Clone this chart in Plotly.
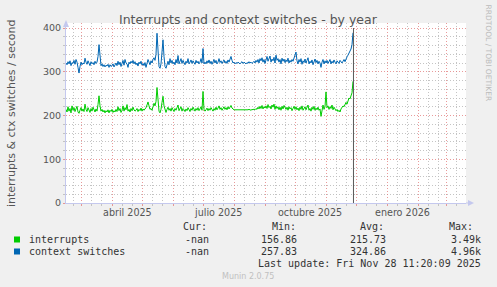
import pandas as pd
import plotly.graph_objects as go

# ---------------- data ----------------
start_date = "2025-02-14"
range_start = "2025-02-14"
range_end = "2026-03-21"
last_update = "2025-11-28 11:20:09"

context_switches = [
    320, 316, 323, 318, 325, 314, 321, 319, 326, 317,
    328, 322, 310, 297, 312, 322, 316, 320, 318, 331,
    322, 317, 325, 319, 314, 323, 318, 321, 316, 324,
    319, 322, 335, 362, 328, 314, 318, 312, 316, 311,
    315, 313, 317, 310, 316, 312, 314, 318, 311, 316,
    320, 314, 324, 316, 322, 312, 318, 326, 315, 328,
    320, 318, 310, 322, 318, 324, 320, 326, 318, 323,
    316, 320, 313, 322, 318, 324, 315, 319, 314, 321,
    310, 318, 328, 322, 316, 325, 320, 328, 332, 326,
    340, 388, 342, 312, 308, 318, 345, 373, 335, 312,
    308, 318, 324, 316, 330, 320, 326, 318, 322, 316,
    328, 320, 337, 318, 324, 330, 319, 326, 321, 316,
    324, 320, 330, 318, 322, 327, 319, 325, 321, 317,
    326, 320, 324, 318, 322, 330, 320, 353, 318, 322,
    318, 325, 320, 327, 319, 324, 317, 322, 328, 320,
    326, 318, 322, 330, 321, 325, 319, 323, 327, 320,
    324, 319, 327, 322, 330, 335, 326, 320, 322, 318,
    321, 319, 322, 320, 318, 321, 323, 319, 322, 320,
    318, 321, 319, 323, 320, 322, 319, 321, 324, 320,
    326, 322, 328, 320, 330, 325, 332, 322, 328, 319,
    327, 335, 324, 330, 336, 322, 329, 325, 333, 320,
    338, 326, 330, 322, 328, 318, 331, 324, 329, 321,
    327, 323, 331, 320, 326, 322, 328, 324, 330, 336,
    345, 325, 318, 328, 322, 330, 317, 325, 321, 329,
    320, 326, 332, 318, 324, 320, 327, 316, 323, 329,
    321, 326, 318, 324, 320, 310, 322, 328, 318, 325,
    320, 326, 319, 323, 328, 318, 324, 320, 327, 322,
    318, 325, 321, 319, 326, 322, 320, 324, 328, 323,
    330, 334, 338, 342, 348, 352, 362, 389,
]

interrupts = [
    214, 208, 220, 210, 216, 206, 222, 212, 218, 209,
    215, 221, 208, 205, 212, 218, 210, 215, 209, 226,
    214, 209, 218, 212, 207, 216, 210, 219, 212, 208,
    215, 210, 225, 245, 222, 210, 214, 208, 212, 206,
    211, 208, 213, 206, 212, 209, 214, 207, 211, 208,
    214, 209, 220, 211, 216, 207, 212, 222, 210, 218,
    213, 225, 210, 214, 208, 216, 211, 219, 213, 210,
    212, 216, 209, 214, 211, 217, 210, 215, 212, 214,
    218, 224, 231, 222, 214, 216, 212, 220, 228, 222,
    232, 264, 226, 210, 206, 214, 230, 244, 222, 210,
    207, 214, 219, 212, 216, 210, 218, 213, 209, 216,
    212, 218, 224, 211, 215, 220, 210, 216, 213, 209,
    215, 211, 218, 213, 209, 216, 212, 219, 214, 210,
    216, 212, 218, 211, 215, 220, 212, 255, 214, 210,
    213, 217, 211, 216, 212, 218, 214, 210, 216, 212,
    219, 213, 217, 222, 214, 218, 212, 216, 220, 214,
    218, 213, 220, 215, 219, 223, 217, 214, 213, 213,
    213, 212, 213, 213, 212, 213, 213, 212, 213, 213,
    212, 213, 213, 214, 213, 212, 214, 213, 215, 213,
    216, 214, 219, 215, 221, 216, 223, 215, 220, 217,
    222, 216, 225, 218, 221, 215, 224, 219, 226, 214,
    222, 216, 220, 213, 219, 212, 221, 215, 223, 217,
    214, 219, 212, 220, 215, 218, 211, 216, 221, 214,
    220, 213, 217, 211, 219, 214, 222, 212, 216, 220,
    213, 218, 224, 212, 216, 210, 219, 214, 221, 212,
    217, 213, 219, 212, 215, 198, 218, 224, 214, 220,
    254, 218, 222, 214, 220, 216, 224, 213, 219, 215,
    211, 214, 209, 212, 208, 215, 218, 222, 220, 226,
    230, 226, 236, 240, 238, 248, 252, 278,
]

series_names = ["interrupts", "context switches"]
series_colors = ["#00CC00", "#0066B3"]
cur_vals = ["-nan", "-nan"]
min_vals = ["156.86", "257.83"]
avg_vals = ["215.73", "324.86"]
max_vals = ["3.49k", "4.96k"]

month_labels = ["abril 2025", "julio 2025", "octubre 2025", "enero 2026"]
month_label_dates = ["2025-04-16", "2025-07-16", "2025-10-16", "2026-01-16"]

title_text = "Interrupts and context switches - by year"
y_title = "interrupts & ctx switches / second"

# ---------------- geometry helpers ----------------
W, H = 497, 287
L, R, T, B = 66, 466, 23, 203
Y_TOP_VAL = 400 * (B - T) / (B - 28)


def px2x(px):
    return (px - L) / (R - L)


def py2y(py):
    return (B - py) / (B - T)


dates = pd.date_range(start_date, periods=len(interrupts), freq="D")

# minor grid: 11th and 21st of each month
minor_vals = []
for m in pd.date_range("2025-02-01", "2026-03-01", freq="MS"):
    for d in (11, 21):
        dt = m + pd.Timedelta(days=d - 1)
        if pd.Timestamp(range_start) < dt < pd.Timestamp(range_end):
            minor_vals.append(dt.strftime("%Y-%m-%d"))

fig = go.Figure()
fig.add_trace(go.Scatter(x=dates, y=interrupts, mode="lines", name=series_names[0],
                         line=dict(color=series_colors[0], width=1)))
fig.add_trace(go.Scatter(x=dates, y=context_switches, mode="lines", name=series_names[1],
                         line=dict(color=series_colors[1], width=1)))

RED_GRID = "rgba(225,120,120,0.75)"
GRAY_GRID = "rgba(190,190,190,0.9)"
AXIS_COL = "#C4C8EE"

fig.update_layout(
    width=W, height=H,
    margin=dict(l=L, r=W - R, t=T, b=H - B, pad=0),
    paper_bgcolor="#F0F0F0",
    plot_bgcolor="#FFFFFF",
    showlegend=False,
    font=dict(family="DejaVu Sans", color="#555555"),
    xaxis=dict(
        type="date", range=[range_start, range_end],
        tick0="2025-03-01", dtick="M1",
        showticklabels=False,
        showgrid=True, gridcolor=RED_GRID, griddash="1px,2px", gridwidth=1,
        ticks="outside", ticklen=2, tickcolor=RED_GRID,
        showline=True, linecolor=AXIS_COL, linewidth=1,
        zeroline=False,
        minor=dict(tickmode="array", tickvals=minor_vals, showgrid=True,
                   gridcolor=GRAY_GRID, griddash="1px,2px", gridwidth=1,
                   ticks="outside", ticklen=2, tickcolor=GRAY_GRID),
    ),
    yaxis=dict(
        range=[0, Y_TOP_VAL], tick0=0, dtick=100,
        showgrid=True, gridcolor=RED_GRID, griddash="1px,2px", gridwidth=1,
        ticks="outside", ticklen=2, tickcolor=RED_GRID,
        tickfont=dict(family="DejaVu Sans", size=9.5, color="#555555"),
        showline=True, linecolor=AXIS_COL, linewidth=1,
        zeroline=False,
        minor=dict(dtick=20, showgrid=True, gridcolor=GRAY_GRID, griddash="1px,2px",
                   gridwidth=1, ticks="outside", ticklen=2, tickcolor=GRAY_GRID),
    ),
)

annotations = []
# title
annotations.append(dict(text=title_text, xref="paper", yref="paper", x=px2x(248), y=py2y(19),
                        xanchor="center", yanchor="middle", showarrow=False,
                        font=dict(family="DejaVu Sans", size=12.5, color="#555555")))
# y title
annotations.append(dict(text=y_title, xref="paper", yref="paper", x=px2x(11), y=py2y(114),
                        xanchor="center", yanchor="middle", showarrow=False, textangle=-90,
                        font=dict(family="DejaVu Sans", size=11, color="#555555")))
# rrdtool watermark
annotations.append(dict(text="RRDTOOL / TOBI OETIKER", xref="paper", yref="paper",
                        x=px2x(487.5), y=py2y(53), xanchor="center", yanchor="middle",
                        showarrow=False, textangle=90,
                        font=dict(family="DejaVu Sans", size=7.5, color="#BBBBBB")))
# month labels
for d, lab in zip(month_label_dates, month_labels):
    annotations.append(dict(text=lab, xref="x", yref="paper", x=d, y=py2y(212.5),
                            xanchor="center", yanchor="middle", showarrow=False,
                            font=dict(family="DejaVu Sans", size=9.6, color="#555555")))

MONO = dict(family="DejaVu Sans Mono", size=10, color="#333333")


def txt(s, px, py, anchor="left", font=MONO):
    annotations.append(dict(text=s, xref="paper", yref="paper", x=px2x(px), y=py2y(py),
                            xanchor=anchor, yanchor="middle", showarrow=False, font=font))


txt("Cur:", 181, 226.5)
txt("Min:", 270, 226.5)
txt("Avg:", 358, 226.5)
txt("Max:", 447, 226.5)
row_y = [239.5, 251.5]
shapes = []
for i in range(2):
    yy = row_y[i]
    shapes.append(dict(type="rect", xref="paper", yref="paper",
                       x0=px2x(14), x1=px2x(20), y0=py2y(yy - 3), y1=py2y(yy + 3),
                       fillcolor=series_colors[i], line=dict(width=0)))
    txt(series_names[i], 26.5, yy)
    txt(cur_vals[i], 211, yy, "right")
    txt(min_vals[i], 299, yy, "right")
    txt(avg_vals[i], 388, yy, "right")
    txt(max_vals[i], 483, yy, "right")

lu = pd.Timestamp(last_update)
txt("Last update: " + lu.strftime("%a %b %d %H:%M:%S %Y"), 483, 263.5, "right")
txt("Munin 2.0.75", 248, 276, "center", dict(family="DejaVu Sans", size=8, color="#C0C0C0"))

# now line
shapes.append(dict(type="line", xref="x", yref="y", x0=lu, x1=lu, y0=0, y1=400,
                   line=dict(color="#5A5A5A", width=1)))
# axis arrows
shapes.append(dict(type="path", xref="paper", yref="paper",
                   path=f"M {px2x(63)},{py2y(27)} L {px2x(66)},{py2y(20)} L {px2x(69)},{py2y(27)} Z",
                   fillcolor=AXIS_COL, line=dict(width=0)))
shapes.append(dict(type="line", xref="paper", yref="paper", x0=1, x1=px2x(470),
                   y0=0, y1=0, line=dict(color=AXIS_COL, width=1)))
shapes.append(dict(type="path", xref="paper", yref="paper",
                   path=f"M {px2x(468)},{py2y(200)} L {px2x(474)},{py2y(203)} L {px2x(468)},{py2y(206)} Z",
                   fillcolor=AXIS_COL, line=dict(width=0)))

fig.update_layout(annotations=annotations, shapes=shapes)
fig.write_html("out.html")
